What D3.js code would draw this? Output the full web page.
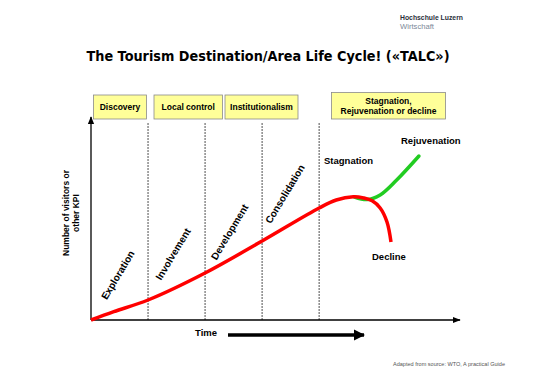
<!DOCTYPE html>
<html><head><meta charset="utf-8">
<script src="https://cdn.jsdelivr.net/npm/d3@7"></script>
<style>body{margin:0;background:#fff}svg{display:block}</style>
</head><body>
<script>
// ---- data ----
const stageBoundaries = [1, 2, 3, 4];
const stageNames = ["Exploration", "Involvement", "Development", "Consolidation"];
const stageLabelPos = [0.47, 1.44, 2.43, 3.4];           // stage units
const stageLabelLevel = [22.5, 33, 44, 63];              // value units
const controlBoxes = ["Discovery", "Local control", "Institutionalism", ["Stagnation,", "Rejuvenation or decline"]];
const mainT = [0, 0.4, 1, 2, 3, 4, 4.3, 4.6, 4.78, 4.93, 5.07, 5.19, 5.26];
const mainV = [0, 4.2, 10, 23.5, 39.5, 56, 60, 61.6, 61, 59.6, 56, 49, 39];
const rejuvT = [4.62, 4.84, 5.07, 5.36, 5.75];
const rejuvV = [61.5, 60.2, 62.5, 70, 82];

const W = 550, H = 388;
const svg = d3.select("body").append("svg").attr("width", W).attr("height", H);
const x = d3.scaleLinear().domain([0, 6.47]).range([91, 460]);
const y = d3.scaleLinear().domain([0, 100]).range([320, 120]);
const sans = "'Liberation Sans', Arial, sans-serif";

// logo
svg.append("text").attr("x", 400).attr("y", 19.5).attr("font-family", sans).attr("font-weight", "bold")
  .attr("font-size", 7.2).attr("fill", "#2a2f3a").attr("textLength", 63).attr("lengthAdjust", "spacingAndGlyphs").text("Hochschule Luzern");
svg.append("text").attr("x", 400).attr("y", 29).attr("font-family", sans)
  .attr("font-size", 7.5).attr("fill", "#7d8a99").attr("textLength", 34).attr("lengthAdjust", "spacingAndGlyphs").text("Wirtschaft");

// title
svg.append("text").attr("x", 268).attr("y", 61).attr("text-anchor", "middle")
  .attr("font-family", "'DejaVu Sans', Verdana, sans-serif").attr("font-weight", "bold")
  .attr("font-size", 13.2).attr("fill", "#000").attr("textLength", 363).attr("lengthAdjust", "spacingAndGlyphs")
  .text("The Tourism Destination/Area Life Cycle! («TALC»)");

// control boxes
const boxGeo = [[93.5, 95, 53, 24], [154, 95, 68.5, 24], [225, 95, 73, 24], [331.5, 92.5, 114, 26.5]];
controlBoxes.forEach((b, i) => {
  const [bx, by, bw, bh] = boxGeo[i];
  svg.append("rect").attr("x", bx).attr("y", by).attr("width", bw).attr("height", bh)
    .attr("fill", "#ffff99").attr("stroke", "#8a8a8a").attr("stroke-width", 0.8);
  const lines = Array.isArray(b) ? b : [b];
  const t = svg.append("text").attr("text-anchor", "middle").attr("font-family", sans)
    .attr("font-weight", "bold").attr("font-size", 8.5);
  lines.forEach((l, j) => {
    t.append("tspan").attr("x", bx + bw / 2)
      .attr("y", by + bh / 2 + 3 + (j - (lines.length - 1) / 2) * 10).text(l);
  });
});

// stage dividers
svg.selectAll("line.div").data(stageBoundaries).enter().append("line")
  .attr("x1", d => x(d)).attr("x2", d => x(d)).attr("y1", 123).attr("y2", y(0))
  .attr("stroke", "#222").attr("stroke-width", 0.8).attr("stroke-dasharray", "2,1");

// axes
const defs = svg.append("defs");
defs.append("marker").attr("id", "ah").attr("viewBox", "0 0 10 10").attr("refX", 9).attr("refY", 5)
  .attr("markerWidth", 6).attr("markerHeight", 6).attr("orient", "auto")
  .append("path").attr("d", "M0,1L10,5L0,9Z").attr("fill", "#000");
defs.append("marker").attr("id", "ah2").attr("viewBox", "0 0 10 10").attr("refX", 9).attr("refY", 5)
  .attr("markerWidth", 3.2).attr("markerHeight", 3.2).attr("orient", "auto")
  .append("path").attr("d", "M0,0L10,5L0,10Z").attr("fill", "#000");
svg.append("line").attr("x1", x(0)).attr("x2", x(0)).attr("y1", y(0)).attr("y2", 117)
  .attr("stroke", "#000").attr("stroke-width", 1.3).attr("marker-end", "url(#ah)");
svg.append("line").attr("x1", x(0)).attr("x2", x(6.47)).attr("y1", y(0)).attr("y2", y(0))
  .attr("stroke", "#000").attr("stroke-width", 1.3).attr("marker-end", "url(#ah)");

// y label
const yl = svg.append("text").attr("transform", "translate(70,213) rotate(-90)")
  .attr("text-anchor", "middle").attr("font-family", sans).attr("font-weight", "bold").attr("font-size", 8.5);
yl.append("tspan").attr("x", 0).attr("y", -1).text("Number of visitors or");
yl.append("tspan").attr("x", 0).attr("y", 9).text("other KPI");

// time label + arrow
svg.append("text").attr("x", 195).attr("y", 336).attr("font-family", sans).attr("font-weight", "bold")
  .attr("font-size", 9.5).text("Time");
svg.append("line").attr("x1", 228).attr("x2", 364).attr("y1", 335).attr("y2", 335)
  .attr("stroke", "#000").attr("stroke-width", 3.5).attr("marker-end", "url(#ah2)");

// curves
const line = d3.line().x(d => x(d[0])).y(d => y(d[1])).curve(d3.curveCatmullRom.alpha(0.5));
svg.append("path").datum(rejuvT.map((t, i) => [t, rejuvV[i]])).attr("d", line)
  .attr("fill", "none").attr("stroke", "#22cc22").attr("stroke-width", 3.5).attr("stroke-linecap", "round");
svg.append("path").datum(mainT.map((t, i) => [t, mainV[i]])).attr("d", line)
  .attr("fill", "none").attr("stroke", "#ff0000").attr("stroke-width", 3.5).attr("stroke-linecap", "butt");

// stage labels
stageNames.forEach((n, i) => {
  svg.append("text").attr("transform", `translate(${x(stageLabelPos[i])},${y(stageLabelLevel[i])}) rotate(-59)`)
    .attr("text-anchor", "middle").attr("dy", "0.35em").attr("font-family", sans).attr("font-weight", "bold")
    .attr("font-size", 10).text(n);
});

// outcome labels
svg.append("text").attr("x", 401).attr("y", 144).attr("font-family", sans).attr("font-weight", "bold").attr("font-size", 9.5).text("Rejuvenation");
svg.append("text").attr("x", 324).attr("y", 163.5).attr("font-family", sans).attr("font-weight", "bold").attr("font-size", 9.5).text("Stagnation");
svg.append("text").attr("x", 372).attr("y", 260).attr("font-family", sans).attr("font-weight", "bold").attr("font-size", 9.5).text("Decline");

// source
svg.append("text").attr("x", 393).attr("y", 366).attr("font-family", sans).attr("font-size", 5.5)
  .attr("fill", "#555").attr("textLength", 112).attr("lengthAdjust", "spacingAndGlyphs").text("Adapted from source: WTO, A practical Guide");
</script>
</body></html>
